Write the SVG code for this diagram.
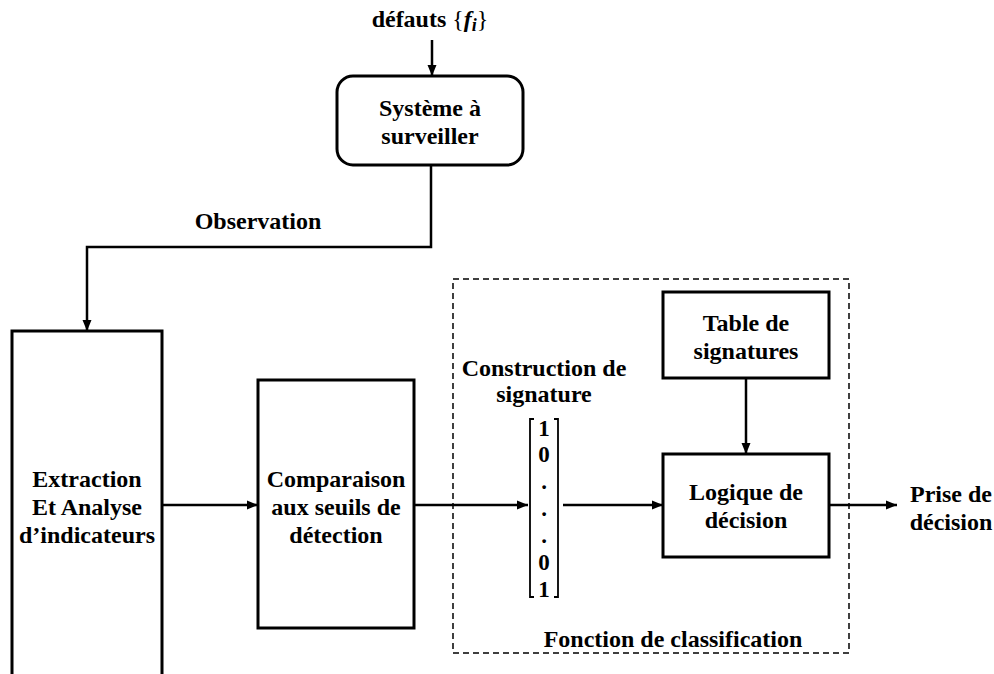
<svg xmlns="http://www.w3.org/2000/svg" width="994" height="674" viewBox="0 0 994 674">
<style>
.t{font-family:"Liberation Serif","Times New Roman",serif;font-weight:bold;font-size:24px;fill:#000;text-anchor:middle}
.m{font-size:23px}
.box{fill:none;stroke:#000;stroke-width:3}
.c{fill:none;stroke:#000;stroke-width:2.5}
.dash{fill:none;stroke:#000;stroke-width:1.5;stroke-dasharray:6 4}
</style>
<defs>
<marker id="ah" markerUnits="userSpaceOnUse" markerWidth="12" markerHeight="10" refX="11" refY="5" orient="auto">
<path d="M0,0.5 L11,5 L0,9.5 Z" fill="#000"/>
</marker>
</defs>
<rect width="994" height="674" fill="#fff"/>

<g id="defauts">
<text class="t" x="430" y="27">défauts <tspan font-weight="normal">{</tspan><tspan font-style="italic">f</tspan><tspan font-style="italic" font-size="18" dy="4">i</tspan><tspan font-weight="normal" dy="-4">}</tspan></text>
</g>

<g id="systeme">
<rect class="box" x="337" y="76" width="186" height="89" rx="16" ry="16"/>
<text class="t" x="430" y="116">Système à</text>
<text class="t" x="430" y="144">surveiller</text>
</g>

<g id="observation">
<text class="t" x="258" y="229">Observation</text>
</g>

<g id="extraction">
<path class="box" d="M12,680 L12,331 L162,331 L162,680"/>
<text class="t" x="87" y="487">Extraction</text>
<text class="t" x="87" y="515">Et Analyse</text>
<text class="t" x="87" y="543">d’indicateurs</text>
</g>

<g id="comparaison">
<rect class="box" x="258" y="380" width="156" height="248"/>
<text class="t" x="336" y="487">Comparaison</text>
<text class="t" x="336" y="515">aux seuils de</text>
<text class="t" x="336" y="543">détection</text>
</g>

<g id="classification">
<rect class="dash" x="453" y="279" width="396" height="374"/>
<text class="t" x="673" y="647">Fonction de classification</text>
</g>

<g id="signature">
<text class="t" x="544" y="376">Construction de</text>
<text class="t" x="544" y="402">signature</text>
<path d="M534,419 L530,419 L530,597 L534,597 M554,419 L558,419 L558,597 L554,597" fill="none" stroke="#000" stroke-width="1.8"/>
<text class="t m" x="544" y="436">1</text>
<text class="t m" x="544" y="462">0</text>
<text class="t m" x="544" y="489">.</text>
<text class="t m" x="544" y="516">.</text>
<text class="t m" x="544" y="543">.</text>
<text class="t m" x="544" y="570">0</text>
<text class="t m" x="544" y="597">1</text>
</g>

<g id="table">
<rect class="box" x="663" y="292" width="166" height="86"/>
<text class="t" x="746" y="331">Table de</text>
<text class="t" x="746" y="359">signatures</text>
</g>

<g id="logique">
<rect class="box" x="663" y="454" width="166" height="103"/>
<text class="t" x="746" y="500">Logique de</text>
<text class="t" x="746" y="528">décision</text>
</g>

<g id="prise">
<text class="t" x="951" y="502">Prise de</text>
<text class="t" x="951" y="530">décision</text>
</g>

<g id="connectors">
<path class="c" d="M432,40 L432,76" marker-end="url(#ah)"/>
<path class="c" d="M431,165 L431,247 L87,247 L87,331" marker-end="url(#ah)"/>
<path class="c" d="M162,505 L258,505" marker-end="url(#ah)"/>
<path class="c" d="M414,505 L528,505" marker-end="url(#ah)"/>
<path class="c" d="M563,505 L663,505" marker-end="url(#ah)"/>
<path class="c" d="M746,378 L746,454" marker-end="url(#ah)"/>
<path class="c" d="M829,505 L897,505" marker-end="url(#ah)"/>
</g>
</svg>
